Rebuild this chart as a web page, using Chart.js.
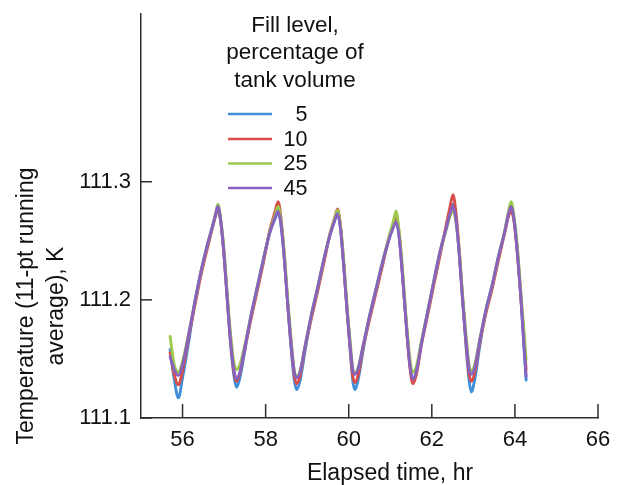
<!DOCTYPE html>
<html><head><meta charset="utf-8">
<script src="https://cdn.jsdelivr.net/npm/chart.js@4/dist/chart.umd.min.js"></script>
<style>html,body{margin:0;padding:0;background:#fff;}#wrap{width:624px;height:485px;}</style>
</head><body><div id="wrap"><canvas id="c" width="624" height="485"></canvas></div>
<script>
// Elapsed time, hr
const timeHr = [55.70,55.80,55.90,56.00,56.15,56.30,56.45,56.60,56.72,56.80,
56.85,56.92,57.00,57.08,57.16,57.24,57.30,57.38,57.50,57.65,
57.80,57.95,58.10,58.22,58.30,58.37,58.45,58.53,58.61,58.69,
58.75,58.83,58.95,59.10,59.25,59.40,59.55,59.66,59.73,59.80,
59.88,59.96,60.04,60.10,60.15,60.23,60.35,60.50,60.65,60.80,
60.95,61.07,61.14,61.21,61.29,61.37,61.45,61.51,61.55,61.63,
61.75,61.90,62.05,62.20,62.35,62.44,62.51,62.58,62.66,62.74,
62.82,62.90,62.95,63.03,63.15,63.30,63.45,63.60,63.75,63.84,
63.91,63.98,64.06,64.14,64.22,64.27];
// Temperature, K (11-pt running average)
const fill5 = [111.158,111.133,111.117,111.134,111.165,111.199,111.225,111.247,111.262,111.272,
111.278,111.266,111.238,111.199,111.161,111.135,111.126,111.134,111.157,111.187,
111.211,111.235,111.257,111.268,111.274,111.263,111.235,111.197,111.160,111.132,
111.124,111.132,111.157,111.187,111.210,111.234,111.255,111.267,111.273,111.261,
111.229,111.191,111.155,111.131,111.124,111.133,111.158,111.186,111.208,111.230,
111.249,111.262,111.267,111.255,111.223,111.186,111.153,111.136,111.133,111.140,
111.164,111.190,111.216,111.241,111.261,111.274,111.281,111.269,111.239,111.201,
111.162,111.131,111.122,111.132,111.160,111.191,111.212,111.236,111.257,111.271,
111.278,111.267,111.240,111.204,111.159,111.132];
const fill10 = [111.155,111.137,111.128,111.140,111.169,111.196,111.222,111.244,111.261,111.272,
111.277,111.266,111.237,111.199,111.164,111.138,111.131,111.138,111.159,111.184,
111.208,111.232,111.259,111.274,111.283,111.269,111.237,111.197,111.163,111.136,
111.129,111.136,111.160,111.184,111.207,111.231,111.256,111.269,111.277,111.263,
111.230,111.191,111.157,111.135,111.130,111.137,111.160,111.183,111.205,111.227,
111.250,111.264,111.271,111.257,111.224,111.186,111.151,111.133,111.129,111.137,
111.162,111.187,111.213,111.238,111.264,111.279,111.289,111.274,111.242,111.201,
111.165,111.137,111.131,111.138,111.163,111.188,111.209,111.233,111.256,111.270,
111.275,111.266,111.239,111.204,111.165,111.141];
const fill25 = [111.169,111.145,111.139,111.148,111.172,111.199,111.225,111.247,111.262,111.274,
111.281,111.268,111.242,111.203,111.170,111.146,111.141,111.145,111.162,111.187,
111.211,111.235,111.258,111.271,111.279,111.266,111.240,111.201,111.168,111.140,
111.135,111.140,111.161,111.187,111.210,111.234,111.256,111.269,111.276,111.263,
111.234,111.195,111.163,111.141,111.138,111.143,111.162,111.186,111.208,111.230,
111.251,111.266,111.275,111.259,111.229,111.190,111.158,111.141,111.139,111.144,
111.165,111.190,111.216,111.241,111.260,111.271,111.276,111.266,111.242,111.205,
111.172,111.144,111.140,111.145,111.166,111.191,111.212,111.236,111.258,111.274,
111.283,111.270,111.245,111.208,111.173,111.149];
const fill45 = [111.152,111.141,111.136,111.145,111.171,111.199,111.225,111.247,111.262,111.273,
111.279,111.267,111.238,111.199,111.164,111.140,111.133,111.139,111.160,111.187,
111.211,111.235,111.257,111.269,111.275,111.264,111.235,111.197,111.164,111.139,
111.134,111.139,111.161,111.187,111.210,111.234,111.255,111.267,111.273,111.261,
111.229,111.191,111.159,111.140,111.137,111.142,111.162,111.186,111.208,111.230,
111.249,111.261,111.266,111.254,111.223,111.186,111.152,111.136,111.133,111.140,
111.163,111.190,111.216,111.241,111.261,111.273,111.279,111.268,111.239,111.201,
111.167,111.141,111.137,111.142,111.165,111.191,111.212,111.236,111.257,111.272,
111.279,111.268,111.240,111.204,111.161,111.135];

const seriesLabels = ['5', '10', '25', '45'];
const xTickValues = [56, 58, 60, 62, 64, 66];
const yTickValues = [111.1, 111.2, 111.3];
const legendTitle = ['Fill level,', 'percentage of', 'tank volume'];
const xTitle = 'Elapsed time, hr';
const yTitle = ['Temperature (11-pt running', 'average), K'];

const colors = ['#3f8fd8', '#d64d49', '#9dc84e', '#8763bf'];
const axisColor = '#2e2e2e';
const textColor = '#111111';
const FONT = '"Liberation Sans", Arial, sans-serif';

const seriesValues = [fill5, fill10, fill25, fill45];
const drawOrder = [3, 2, 1, 0];

const decor = {
  id: 'decor',
  afterDraw(chart) {
    const {ctx, scales: {x, y}, chartArea: a} = chart;
    ctx.save();
    ctx.strokeStyle = axisColor;
    ctx.lineWidth = 1.5;
    xTickValues.forEach(v => {
      const px = x.getPixelForValue(v);
      ctx.beginPath(); ctx.moveTo(px, a.bottom); ctx.lineTo(px, a.bottom - 14); ctx.stroke();
    });
    yTickValues.forEach(v => {
      const py = y.getPixelForValue(v);
      ctx.beginPath(); ctx.moveTo(a.left, py); ctx.lineTo(a.left + 11, py); ctx.stroke();
    });
    ctx.fillStyle = textColor;
    ctx.font = '23px ' + FONT;
    ctx.textAlign = 'center';
    ctx.textBaseline = 'alphabetic';
    ctx.fillText(xTitle, 390, 480);
    ctx.save();
    ctx.translate(0, 306);
    ctx.rotate(-Math.PI / 2);
    yTitle.forEach((line, i) => ctx.fillText(line, 0, 33 + 30 * i));
    ctx.restore();
    // legend
    ctx.font = '22.5px ' + FONT;
    legendTitle.forEach((line, i) => ctx.fillText(line, 295, 31.5 + 27.5 * i));
    const rows = [114, 139, 163.5, 188];
    ctx.font = '21.5px ' + FONT;
    ctx.textAlign = 'right';
    ctx.textBaseline = 'middle';
    seriesLabels.forEach((lab, i) => {
      ctx.strokeStyle = colors[i];
      ctx.lineWidth = 2.5;
      ctx.beginPath(); ctx.moveTo(228, rows[i]); ctx.lineTo(272, rows[i]); ctx.stroke();
      ctx.fillText(lab, 307.5, rows[i] + 1);
    });
    ctx.restore();
  }
};

new Chart(document.getElementById('c'), {
  type: 'line',
  data: {
    datasets: seriesValues.map((vals, i) => ({
      label: seriesLabels[i],
      data: timeHr.map((t, k) => ({x: t, y: vals[k]})),
      borderColor: colors[i],
      backgroundColor: colors[i],
      borderWidth: 2.9,
      pointRadius: 0,
      fill: false,
      cubicInterpolationMode: 'monotone',
      borderJoinStyle: 'round',
      borderCapStyle: 'round',
      order: drawOrder[i]
    }))
  },
  options: {
    responsive: false,
    animation: false,
    devicePixelRatio: 1,
    layout: {padding: {top: 14, right: 26, left: 0, bottom: 0}},
    plugins: {legend: {display: false}, tooltip: {enabled: false}},
    scales: {
      x: {
        type: 'linear', min: 55, max: 66,
        grid: {display: false, drawTicks: false},
        border: {display: true, color: axisColor, width: 1.5},
        afterBuildTicks: s => { s.ticks = xTickValues.map(v => ({value: v})); },
        afterFit: s => { s.height = 67; s.paddingLeft = 0; s.paddingRight = 0; },
        ticks: {padding: 9, autoSkip: false, maxRotation: 0, color: textColor,
          font: {family: FONT, size: 22}, callback: v => String(v)}
      },
      y: {
        type: 'linear', min: 111.1, max: 111.442,
        grid: {display: false, drawTicks: false},
        border: {display: true, color: axisColor, width: 1.5},
        afterBuildTicks: s => { s.ticks = yTickValues.map(v => ({value: v})); },
        afterFit: s => { s.width = 141; s.paddingTop = 0; s.paddingBottom = 0; },
        ticks: {padding: 10, color: textColor,
          font: {family: FONT, size: 22}, callback: v => Number(v).toFixed(1)}
      }
    }
  },
  plugins: [decor]
});
</script>
</body></html>
